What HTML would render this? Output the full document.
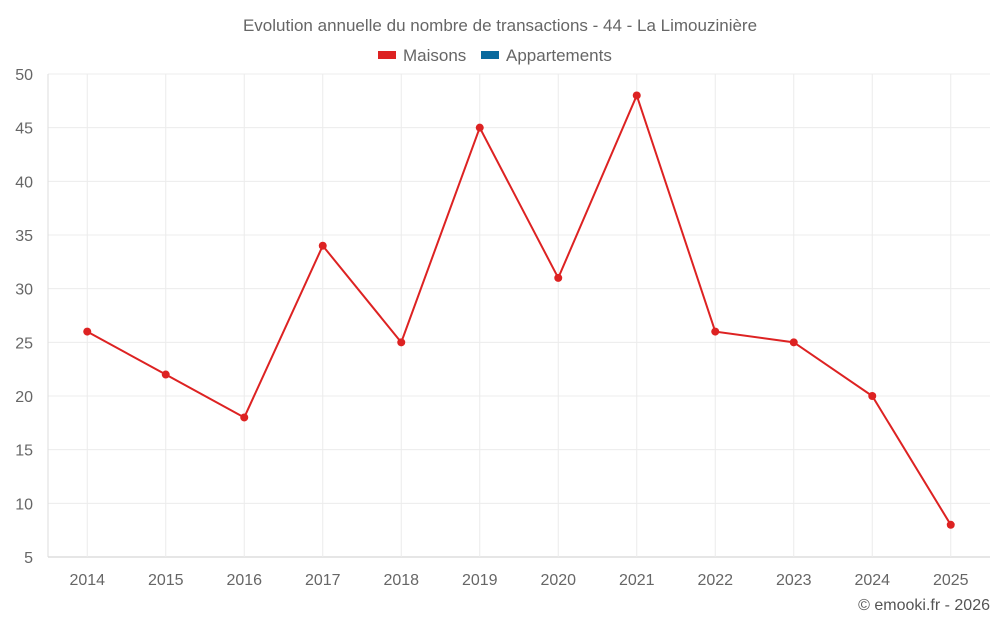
<!DOCTYPE html>
<html><head><meta charset="utf-8"><style>
body{margin:0;background:#fff;}
svg{display:block;font-family:"Liberation Sans",sans-serif;}
</style></head><body>
<svg id="chart" width="1000" height="625">
<text x="500" y="31" text-anchor="middle" font-size="17" fill="#666">Evolution annuelle du nombre de transactions - 44 - La Limouzinière</text>
<g>
<rect x="378" y="51" width="18" height="8" fill="#dd2222"/>
<text x="403" y="61" font-size="17" fill="#666">Maisons</text>
<rect x="481" y="51" width="18" height="8" fill="#0a6a9e"/>
<text x="506" y="61" font-size="17" fill="#666">Appartements</text>
</g>
<g id="grid"></g><g id="axes"></g><g id="series"></g>
<text x="990" y="610" text-anchor="end" font-size="16" fill="#555">© emooki.fr - 2026</text>
</svg>
<script>
const categories=["2014","2015","2016","2017","2018","2019","2020","2021","2022","2023","2024","2025"];
const maisons=[26,22,18,34,25,45,31,48,26,25,20,8];
const yTicks=[5,10,15,20,25,30,35,40,45,50];
const NS="http://www.w3.org/2000/svg";
const L=48,R=990,T=74,B=557,yMin=5,yMax=50;
const bw=(R-L)/categories.length;
const x=i=>L+bw*(i+0.5);
const y=v=>B-(v-yMin)/(yMax-yMin)*(B-T);
function mk(t,a,p){const e=document.createElementNS(NS,t);for(const k in a)e.setAttribute(k,a[k]);p.appendChild(e);return e;}
const g=document.getElementById('grid'),ax=document.getElementById('axes'),s=document.getElementById('series');
yTicks.forEach(v=>{
 const l=mk('line',{x1:L,x2:R,y1:y(v),y2:y(v),stroke:v===yMin?'#ccc':'#ececec'},g);
 
 
 const t=mk('text',{x:33,y:y(v)+6,'text-anchor':'end','font-size':16,fill:'#666'},ax);
 t.textContent=v;
 
 
});
categories.forEach((c,i)=>{
 const l=mk('line',{x1:x(i),x2:x(i),y1:T,y2:B,stroke:'#ececec'},g);
 
 
 const t=mk('text',{x:x(i),y:585,'text-anchor':'middle','font-size':16,fill:'#666'},ax);
 t.textContent=c;
 
 
});
const al=mk('line',{x1:L,x2:L,y1:T,y2:B,stroke:'#ddd'},ax);


const p=mk('polyline',{points:maisons.map((v,i)=>x(i)+','+y(v)).join(' '),fill:'none',stroke:'#dd2222','stroke-width':2},s);


maisons.forEach((v,i)=>{
 const c=mk('circle',{cx:x(i),cy:y(v),r:4,fill:'#dd2222'},s);
 
 
});
</script>
</body></html>
